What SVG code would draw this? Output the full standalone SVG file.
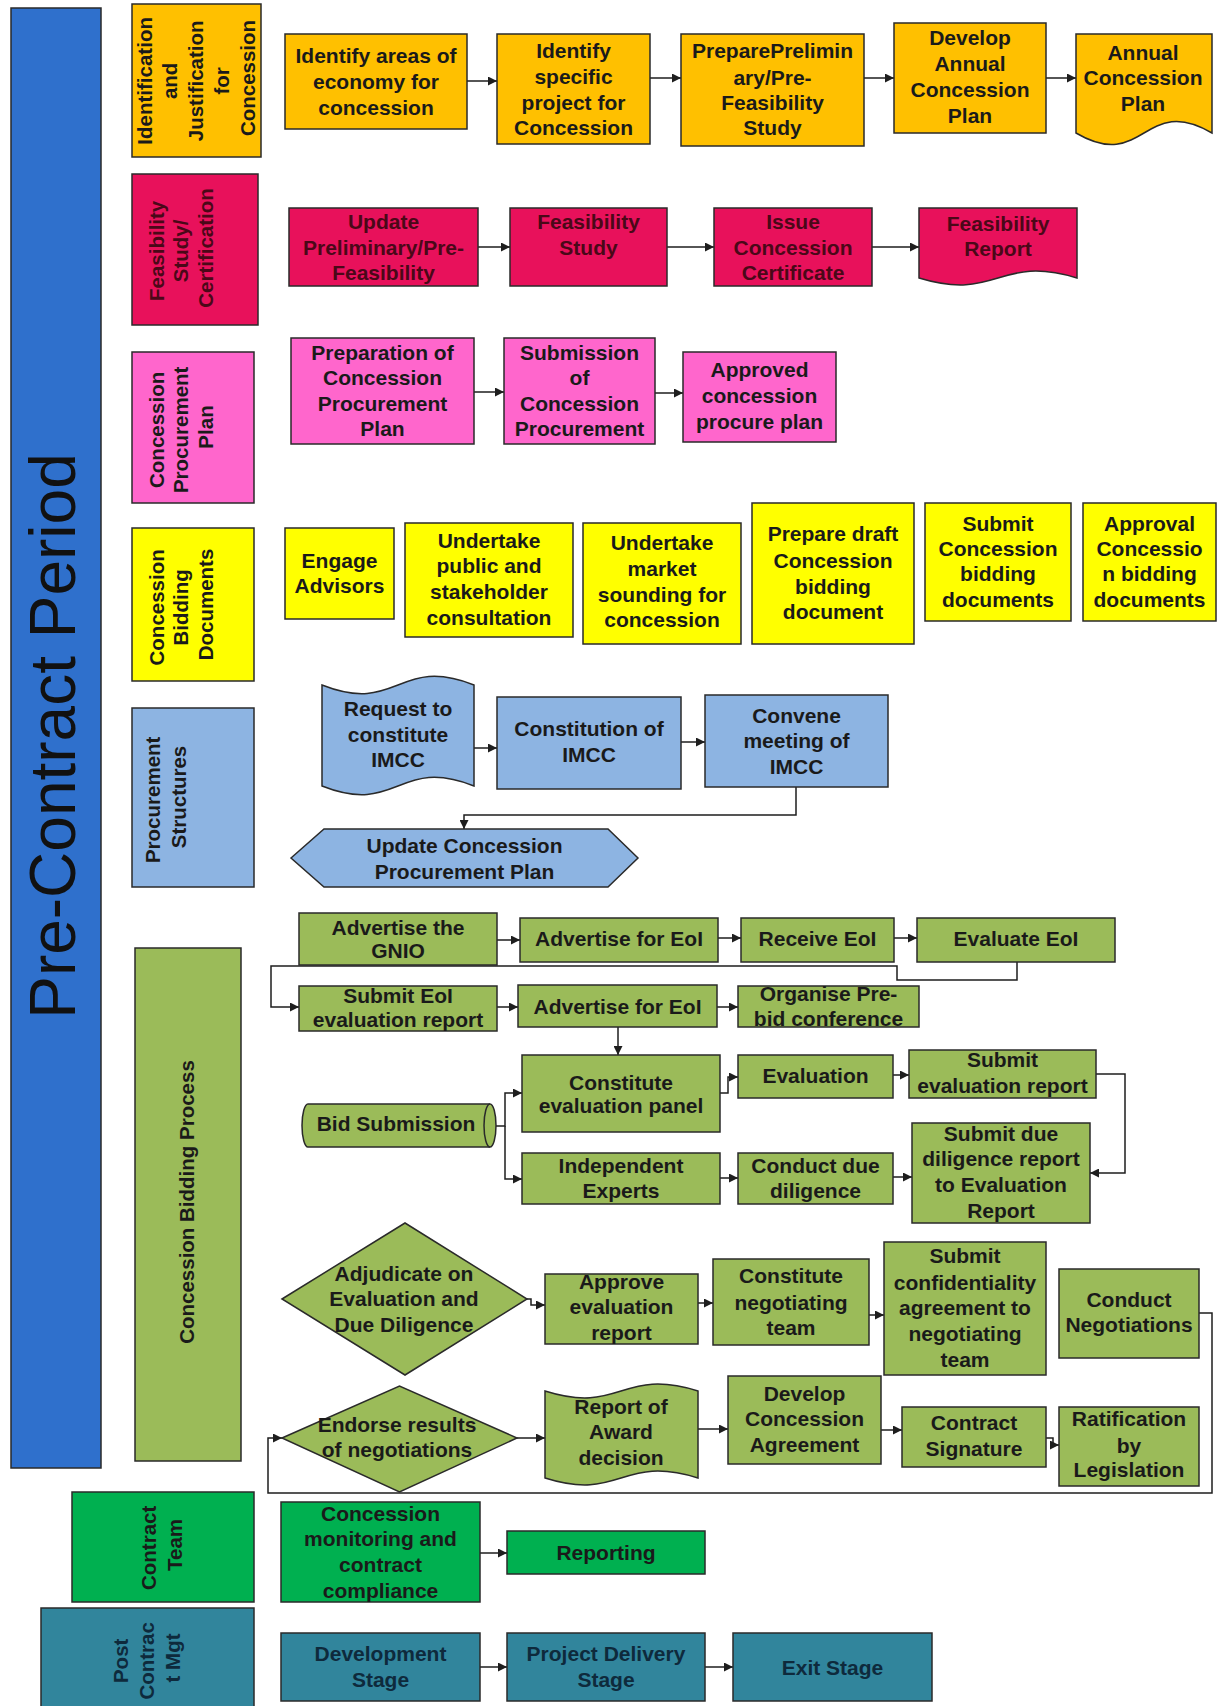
<svg xmlns="http://www.w3.org/2000/svg" width="1217" height="1706" viewBox="0 0 1217 1706">
  <style>
    .shape { stroke: #2a2a2a; stroke-width: 1.5; }
    .or { fill: #FFC000; }
    .cr { fill: #E8115B; }
    .pk { fill: #FF66CC; }
    .ye { fill: #FFFF00; }
    .lb { fill: #8DB4E2; }
    .og { fill: #9BBB59; }
    .gr { fill: #00B050; }
    .tl { fill: #31859C; }
    .bl { fill: #2F70CC; }
    .t { font-family: "Liberation Sans", Arial, sans-serif; font-weight: bold; font-size: 21px; text-anchor: middle; fill: #1a1a1a; }
    .h { font-family: "Liberation Sans", Arial, sans-serif; font-weight: bold; font-size: 20.5px; text-anchor: middle; fill: #1a1a1a; }
    .mar { fill: #4a0818; }
    .navy { fill: #0e2a3c; }
    .title { font-family: "Liberation Sans", Arial, sans-serif; font-size: 64px; text-anchor: middle; fill: #111; }
    .c { fill: none; stroke: #1e1e1e; stroke-width: 1.5; marker-end: url(#arrow); }
  </style>
  <defs>
    <marker id="arrow" viewBox="0 0 10 10" refX="10" refY="5" markerUnits="userSpaceOnUse" markerWidth="9" markerHeight="9" orient="auto">
      <path d="M0,0 L10,5 L0,10 z" fill="#1e1e1e"/>
    </marker>
  </defs>
  <rect width="1217" height="1706" fill="#ffffff"/>

  <!-- Period band -->
  <g id="band-pre-contract">
    <rect class="shape bl" x="11" y="8" width="90" height="1460"/>
    <text class="title" transform="translate(75,736) rotate(-90)" x="0" y="0">Pre-Contract Period</text>
  </g>

  <!-- Lane headers -->
  <g id="lane-identification">
    <rect class="shape or" x="132" y="4" width="129" height="153"/>
    <text class="h" transform="translate(196,78) rotate(-90)">
      <tspan x="0" y="-44.5">Identification</tspan>
      <tspan x="0" y="-18.8">and</tspan>
      <tspan x="0" y="7">Justification</tspan>
      <tspan x="0" y="32.7">for</tspan>
      <tspan x="0" y="58.5">Concession</tspan>
    </text>
  </g>
  <g id="lane-feasibility">
    <rect class="shape cr" x="132" y="174" width="126" height="151"/>
    <text class="h mar" transform="translate(180,248) rotate(-90)">
      <tspan x="0" y="-16.5">Feasibility</tspan>
      <tspan x="0" y="7.5">Study/</tspan>
      <tspan x="0" y="32.5">Certification</tspan>
    </text>
  </g>
  <g id="lane-procurement-plan">
    <rect class="shape pk" x="132" y="352" width="122" height="151"/>
    <text class="h" transform="translate(180,427) rotate(-90)">
      <tspan x="0" y="-16.5">Concession</tspan>
      <tspan x="0" y="7.5">Procurement</tspan>
      <tspan x="0" y="32.5">Plan</tspan>
    </text>
  </g>
  <g id="lane-bidding-documents">
    <rect class="shape ye" x="132" y="528" width="122" height="153"/>
    <text class="h" transform="translate(180,604.5) rotate(-90)">
      <tspan x="0" y="-16.5">Concession</tspan>
      <tspan x="0" y="7.5">Bidding</tspan>
      <tspan x="0" y="32.5">Documents</tspan>
    </text>
  </g>
  <g id="lane-procurement-structures">
    <rect class="shape lb" x="132" y="708" width="122" height="179"/>
    <text class="h" transform="translate(165,797) rotate(-90)">
      <tspan x="0" y="-5.5">Procurement</tspan>
      <tspan x="0" y="20.5">Structures</tspan>
    </text>
  </g>
  <g id="lane-bidding-process">
    <rect class="shape og" x="135" y="948" width="106" height="513"/>
    <text class="h" transform="translate(186,1202) rotate(-90)" x="0" y="7.5">Concession Bidding Process</text>
  </g>
  <g id="lane-contract-team">
    <rect class="shape gr" x="72" y="1492" width="182" height="110"/>
    <text class="h" transform="translate(161,1545) rotate(-90)">
      <tspan x="0" y="-5.5">Contract</tspan>
      <tspan x="0" y="20.5">Team</tspan>
    </text>
  </g>
  <g id="lane-post-contract">
    <rect class="shape tl" x="41" y="1608" width="213" height="100"/>
    <text class="h navy" transform="translate(146,1658) rotate(-90)">
      <tspan x="0" y="-18">Post</tspan>
      <tspan x="0" y="7.5">Contrac</tspan>
      <tspan x="0" y="33.5">t Mgt</tspan>
    </text>
  </g>

  <!-- Connectors -->
  <g id="connectors">
    <path class="c" d="M467,81 H497"/>
    <path class="c" d="M650,78 H681"/>
    <path class="c" d="M864,78 H894"/>
    <path class="c" d="M1046,78 H1076"/>
    <path class="c" d="M478,247 H510"/>
    <path class="c" d="M667,247 H714"/>
    <path class="c" d="M872,247 H919"/>
    <path class="c" d="M474,392 H504"/>
    <path class="c" d="M655,393 H683"/>
    <path class="c" d="M474,748 H497"/>
    <path class="c" d="M681,742 H705"/>
    <path class="c" d="M796,787 V815 H464 V829"/>
    <path class="c" d="M497,940 H520"/>
    <path class="c" d="M718,938 H741"/>
    <path class="c" d="M894,938 H917"/>
    <path class="c" d="M1017,962 V980 H897 V966 H271 V1007 H299"/>
    <path class="c" d="M497,1007 H518"/>
    <path class="c" d="M717,1007 H738"/>
    <path class="c" d="M618,1027 V1055"/>
    <path class="c" d="M496,1126 H505 V1093 H522"/>
    <path class="c" d="M505,1126 V1179 H522"/>
    <path class="c" d="M720,1093 H728 V1077 H738"/>
    <path class="c" d="M893,1075 H909"/>
    <path class="c" d="M1096,1074 H1125 V1173 H1090"/>
    <path class="c" d="M720,1178 H738"/>
    <path class="c" d="M893,1177 H912"/>
    <path class="c" d="M527,1299 H531 V1305 H545"/>
    <path class="c" d="M698,1303 H713"/>
    <path class="c" d="M869,1315 H884"/>
    <path class="c" d="M1199,1313 H1212 V1493 H268 V1438 H282"/>
    <path class="c" d="M517,1438 H545"/>
    <path class="c" d="M698,1429 H728"/>
    <path class="c" d="M881,1430 H902"/>
    <path class="c" d="M1046,1438 H1053 V1445 H1059"/>
    <path class="c" d="M480,1553 H507"/>
    <path class="c" d="M480,1667 H507"/>
    <path class="c" d="M705,1667 H733"/>
  </g>

  <!-- Identification and justification -->
  <g id="n-identify-areas">
    <rect class="shape or" x="285" y="34" width="182" height="95"/>
    <text class="t"><tspan x="376" y="62.5">Identify areas of</tspan><tspan x="376" y="88.5">economy for</tspan><tspan x="376" y="114.5">concession</tspan></text>
  </g>
  <g id="n-identify-project">
    <rect class="shape or" x="497" y="34" width="153" height="110"/>
    <text class="t"><tspan x="573.5" y="58">Identify</tspan><tspan x="573.5" y="84">specific</tspan><tspan x="573.5" y="110">project for</tspan><tspan x="573.5" y="135">Concession</tspan></text>
  </g>
  <g id="n-prepare-prefeasibility">
    <rect class="shape or" x="681" y="34" width="183" height="112"/>
    <text class="t"><tspan x="772.5" y="57.5">PreparePrelimin</tspan><tspan x="772.5" y="84.5">ary/Pre-</tspan><tspan x="772.5" y="109.5">Feasibility</tspan><tspan x="772.5" y="134.5">Study</tspan></text>
  </g>
  <g id="n-develop-plan">
    <rect class="shape or" x="894" y="23" width="152" height="110"/>
    <text class="t"><tspan x="970" y="44.5">Develop</tspan><tspan x="970" y="70.5">Annual</tspan><tspan x="970" y="96.5">Concession</tspan><tspan x="970" y="122.5">Plan</tspan></text>
  </g>
  <g id="n-annual-plan">
    <path class="shape or" d="M1076,34 H1212 V133 C1144,93 1144,173 1076,133 Z"/>
    <text class="t"><tspan x="1143" y="59.5">Annual</tspan><tspan x="1143" y="84.5">Concession</tspan><tspan x="1143" y="110.5">Plan</tspan></text>
  </g>

  <!-- Feasibility study / certification -->
  <g id="n-update-prelim">
    <rect class="shape cr" x="289" y="208" width="189" height="78"/>
    <text class="t mar"><tspan x="383.5" y="228.5">Update</tspan><tspan x="383.5" y="254.5">Preliminary/Pre-</tspan><tspan x="383.5" y="279.5">Feasibility</tspan></text>
  </g>
  <g id="n-feasibility-study">
    <rect class="shape cr" x="510" y="208" width="157" height="78"/>
    <text class="t mar"><tspan x="588.5" y="228.5">Feasibility</tspan><tspan x="588.5" y="254.5">Study</tspan></text>
  </g>
  <g id="n-issue-certificate">
    <rect class="shape cr" x="714" y="208" width="158" height="78"/>
    <text class="t mar"><tspan x="793" y="228.5">Issue</tspan><tspan x="793" y="254.5">Concession</tspan><tspan x="793" y="279.5">Certificate</tspan></text>
  </g>
  <g id="n-feasibility-report">
    <path class="shape cr" d="M919,208 H1077 V278 C998,254 998,302 919,278 Z"/>
    <text class="t mar"><tspan x="998" y="230.5">Feasibility</tspan><tspan x="998" y="255.5">Report</tspan></text>
  </g>

  <!-- Concession procurement plan -->
  <g id="n-prepare-cpp">
    <rect class="shape pk" x="291" y="338" width="183" height="106"/>
    <text class="t"><tspan x="382.5" y="359.5">Preparation of</tspan><tspan x="382.5" y="384.5">Concession</tspan><tspan x="382.5" y="410.5">Procurement</tspan><tspan x="382.5" y="435.5">Plan</tspan></text>
  </g>
  <g id="n-submit-cpp">
    <rect class="shape pk" x="504" y="338" width="151" height="106"/>
    <text class="t"><tspan x="579.5" y="359.5">Submission</tspan><tspan x="579.5" y="384.5">of</tspan><tspan x="579.5" y="410.5">Concession</tspan><tspan x="579.5" y="435.5">Procurement</tspan></text>
  </g>
  <g id="n-approved-cpp">
    <rect class="shape pk" x="683" y="352" width="153" height="90"/>
    <text class="t"><tspan x="759.5" y="376.5">Approved</tspan><tspan x="759.5" y="402.5">concession</tspan><tspan x="759.5" y="428.5">procure plan</tspan></text>
  </g>

  <!-- Concession bidding documents -->
  <g id="n-engage-advisors">
    <rect class="shape ye" x="285" y="528" width="109" height="91"/>
    <text class="t"><tspan x="339.5" y="567.5">Engage</tspan><tspan x="339.5" y="592.5">Advisors</tspan></text>
  </g>
  <g id="n-public-consultation">
    <rect class="shape ye" x="405" y="523" width="168" height="114"/>
    <text class="t"><tspan x="489" y="547.5">Undertake</tspan><tspan x="489" y="572.5">public and</tspan><tspan x="489" y="598.5">stakeholder</tspan><tspan x="489" y="624.5">consultation</tspan></text>
  </g>
  <g id="n-market-sounding">
    <rect class="shape ye" x="583" y="523" width="158" height="121"/>
    <text class="t"><tspan x="662" y="549.5">Undertake</tspan><tspan x="662" y="575.5">market</tspan><tspan x="662" y="601.5">sounding for</tspan><tspan x="662" y="626.5">concession</tspan></text>
  </g>
  <g id="n-draft-document">
    <rect class="shape ye" x="752" y="503" width="162" height="141"/>
    <text class="t"><tspan x="833" y="540.5">Prepare draft</tspan><tspan x="833" y="567.5">Concession</tspan><tspan x="833" y="593.5">bidding</tspan><tspan x="833" y="618.5">document</tspan></text>
  </g>
  <g id="n-submit-bidding-docs">
    <rect class="shape ye" x="925" y="503" width="146" height="118"/>
    <text class="t"><tspan x="998" y="530.5">Submit</tspan><tspan x="998" y="555.5">Concession</tspan><tspan x="998" y="580.5">bidding</tspan><tspan x="998" y="606.5">documents</tspan></text>
  </g>
  <g id="n-approval-bidding-docs">
    <rect class="shape ye" x="1083" y="503" width="133" height="118"/>
    <text class="t"><tspan x="1149.5" y="530.5">Approval</tspan><tspan x="1149.5" y="555.5">Concessio</tspan><tspan x="1149.5" y="580.5">n bidding</tspan><tspan x="1149.5" y="606.5">documents</tspan></text>
  </g>

  <!-- Procurement structures -->
  <g id="n-request-imcc">
    <path class="shape lb" d="M322,685 C398,715 398,655 474,685 V786 C398,756 398,816 322,786 Z"/>
    <text class="t"><tspan x="398" y="715.5">Request to</tspan><tspan x="398" y="741.5">constitute</tspan><tspan x="398" y="766.5">IMCC</tspan></text>
  </g>
  <g id="n-constitute-imcc">
    <rect class="shape lb" x="497" y="697" width="184" height="92"/>
    <text class="t"><tspan x="589" y="735.5">Constitution of</tspan><tspan x="589" y="761.5">IMCC</tspan></text>
  </g>
  <g id="n-convene-imcc">
    <rect class="shape lb" x="705" y="695" width="183" height="92"/>
    <text class="t"><tspan x="796.5" y="722.5">Convene</tspan><tspan x="796.5" y="747.5">meeting of</tspan><tspan x="796.5" y="773.5">IMCC</tspan></text>
  </g>
  <g id="n-update-cpp">
    <path class="shape lb" d="M291,858 L324,829 H608 L638,858 L608,887 H324 Z"/>
    <text class="t"><tspan x="464.5" y="852.5">Update Concession</tspan><tspan x="464.5" y="878.5">Procurement Plan</tspan></text>
  </g>

  <!-- Concession bidding process -->
  <g id="n-advertise-gnio">
    <rect class="shape og" x="299" y="913" width="198" height="52"/>
    <text class="t"><tspan x="398" y="934.5">Advertise the</tspan><tspan x="398" y="957.5">GNIO</tspan></text>
  </g>
  <g id="n-advertise-eoi">
    <rect class="shape og" x="520" y="918" width="198" height="44"/>
    <text class="t" x="619" y="945.5">Advertise for EoI</text>
  </g>
  <g id="n-receive-eoi">
    <rect class="shape og" x="741" y="918" width="153" height="44"/>
    <text class="t" x="817.5" y="945.5">Receive EoI</text>
  </g>
  <g id="n-evaluate-eoi">
    <rect class="shape og" x="917" y="918" width="198" height="44"/>
    <text class="t" x="1016" y="945.5">Evaluate EoI</text>
  </g>
  <g id="n-submit-eoi-report">
    <rect class="shape og" x="299" y="986" width="198" height="45"/>
    <text class="t"><tspan x="398" y="1002.5">Submit EoI</tspan><tspan x="398" y="1026.5">evaluation report</tspan></text>
  </g>
  <g id="n-advertise-eoi-2">
    <rect class="shape og" x="518" y="985" width="199" height="42"/>
    <text class="t" x="617.5" y="1013.5">Advertise for EoI</text>
  </g>
  <g id="n-prebid-conference">
    <rect class="shape og" x="738" y="986" width="181" height="41"/>
    <text class="t"><tspan x="828.5" y="1000.5">Organise Pre-</tspan><tspan x="828.5" y="1025.5">bid conference</tspan></text>
  </g>
  <g id="n-evaluation-panel">
    <rect class="shape og" x="522" y="1055" width="198" height="77"/>
    <text class="t"><tspan x="621" y="1089.5">Constitute</tspan><tspan x="621" y="1112.5">evaluation panel</tspan></text>
  </g>
  <g id="n-evaluation">
    <rect class="shape og" x="738" y="1055" width="155" height="43"/>
    <text class="t" x="815.5" y="1082.5">Evaluation</text>
  </g>
  <g id="n-submit-evaluation">
    <rect class="shape og" x="909" y="1050" width="187" height="48"/>
    <text class="t"><tspan x="1002.5" y="1066.5">Submit</tspan><tspan x="1002.5" y="1092.5">evaluation report</tspan></text>
  </g>
  <g id="n-bid-submission">
    <path class="shape og" d="M308,1104 H490 A6,21.5 0 0 1 490,1147 H308 A6,21.5 0 0 1 308,1104 Z"/>
    <path class="shape" fill="none" d="M490,1104 A6,21.5 0 0 0 490,1147"/>
    <text class="t" x="396" y="1131">Bid Submission</text>
  </g>
  <g id="n-independent-experts">
    <rect class="shape og" x="522" y="1153" width="198" height="51"/>
    <text class="t"><tspan x="621" y="1172.5">Independent</tspan><tspan x="621" y="1197.5">Experts</tspan></text>
  </g>
  <g id="n-due-diligence">
    <rect class="shape og" x="738" y="1153" width="155" height="51"/>
    <text class="t"><tspan x="815.5" y="1172.5">Conduct due</tspan><tspan x="815.5" y="1197.5">diligence</tspan></text>
  </g>
  <g id="n-submit-due-diligence">
    <rect class="shape og" x="912" y="1123" width="178" height="100"/>
    <text class="t"><tspan x="1001" y="1140.5">Submit due</tspan><tspan x="1001" y="1165.5">diligence report</tspan><tspan x="1001" y="1191.5">to Evaluation</tspan><tspan x="1001" y="1217.5">Report</tspan></text>
  </g>
  <g id="n-adjudicate">
    <path class="shape og" d="M282,1299 L405,1223 L527,1299 L405,1375 Z"/>
    <text class="t"><tspan x="404" y="1280.5">Adjudicate on</tspan><tspan x="404" y="1306">Evaluation and</tspan><tspan x="404" y="1331.5">Due Diligence</tspan></text>
  </g>
  <g id="n-approve-evaluation">
    <rect class="shape og" x="545" y="1274" width="153" height="70"/>
    <text class="t"><tspan x="621.5" y="1288.5">Approve</tspan><tspan x="621.5" y="1313.5">evaluation</tspan><tspan x="621.5" y="1339.5">report</tspan></text>
  </g>
  <g id="n-negotiating-team">
    <rect class="shape og" x="713" y="1259" width="156" height="86"/>
    <text class="t"><tspan x="791" y="1282.5">Constitute</tspan><tspan x="791" y="1309.5">negotiating</tspan><tspan x="791" y="1334.5">team</tspan></text>
  </g>
  <g id="n-confidentiality">
    <rect class="shape og" x="884" y="1242" width="162" height="133"/>
    <text class="t"><tspan x="965" y="1262.5">Submit</tspan><tspan x="965" y="1289.5">confidentiality</tspan><tspan x="965" y="1314.5">agreement to</tspan><tspan x="965" y="1340.5">negotiating</tspan><tspan x="965" y="1366.5">team</tspan></text>
  </g>
  <g id="n-negotiations">
    <rect class="shape og" x="1059" y="1269" width="140" height="89"/>
    <text class="t"><tspan x="1129" y="1306.5">Conduct</tspan><tspan x="1129" y="1331.5">Negotiations</tspan></text>
  </g>
  <g id="n-endorse">
    <path class="shape og" d="M282,1438 L399.5,1386 L517,1438 L399.5,1492 Z"/>
    <text class="t"><tspan x="397" y="1431.5">Endorse results</tspan><tspan x="397" y="1456.5">of negotiations</tspan></text>
  </g>
  <g id="n-award-report">
    <path class="shape og" d="M545,1391 C621,1415 621,1367 698,1391 V1478 C621,1454 621,1502 545,1478 Z"/>
    <text class="t"><tspan x="621" y="1413.5">Report of</tspan><tspan x="621" y="1438.5">Award</tspan><tspan x="621" y="1464.5">decision</tspan></text>
  </g>
  <g id="n-concession-agreement">
    <rect class="shape og" x="728" y="1376" width="153" height="88"/>
    <text class="t"><tspan x="804.5" y="1400.5">Develop</tspan><tspan x="804.5" y="1425.5">Concession</tspan><tspan x="804.5" y="1451.5">Agreement</tspan></text>
  </g>
  <g id="n-contract-signature">
    <rect class="shape og" x="902" y="1407" width="144" height="60"/>
    <text class="t"><tspan x="974" y="1429.5">Contract</tspan><tspan x="974" y="1455.5">Signature</tspan></text>
  </g>
  <g id="n-ratification">
    <rect class="shape og" x="1059" y="1407" width="140" height="79"/>
    <text class="t"><tspan x="1129" y="1425.5">Ratification</tspan><tspan x="1129" y="1452.5">by</tspan><tspan x="1129" y="1476.5">Legislation</tspan></text>
  </g>

  <!-- Contract team -->
  <g id="n-monitoring">
    <rect class="shape gr" x="281" y="1502" width="199" height="100"/>
    <text class="t"><tspan x="380.5" y="1520.5">Concession</tspan><tspan x="380.5" y="1545.5">monitoring and</tspan><tspan x="380.5" y="1571.5">contract</tspan><tspan x="380.5" y="1597.5">compliance</tspan></text>
  </g>
  <g id="n-reporting">
    <rect class="shape gr" x="507" y="1531" width="198" height="43"/>
    <text class="t" x="606" y="1559.5">Reporting</text>
  </g>

  <!-- Post contract management -->
  <g id="n-development-stage">
    <rect class="shape tl" x="281" y="1633" width="199" height="68"/>
    <text class="t navy"><tspan x="380.5" y="1660.5">Development</tspan><tspan x="380.5" y="1686.5">Stage</tspan></text>
  </g>
  <g id="n-delivery-stage">
    <rect class="shape tl" x="507" y="1633" width="198" height="68"/>
    <text class="t navy"><tspan x="606" y="1660.5">Project Delivery</tspan><tspan x="606" y="1686.5">Stage</tspan></text>
  </g>
  <g id="n-exit-stage">
    <rect class="shape tl" x="733" y="1633" width="199" height="68"/>
    <text class="t navy" x="832.5" y="1674.5">Exit Stage</text>
  </g>
</svg>
